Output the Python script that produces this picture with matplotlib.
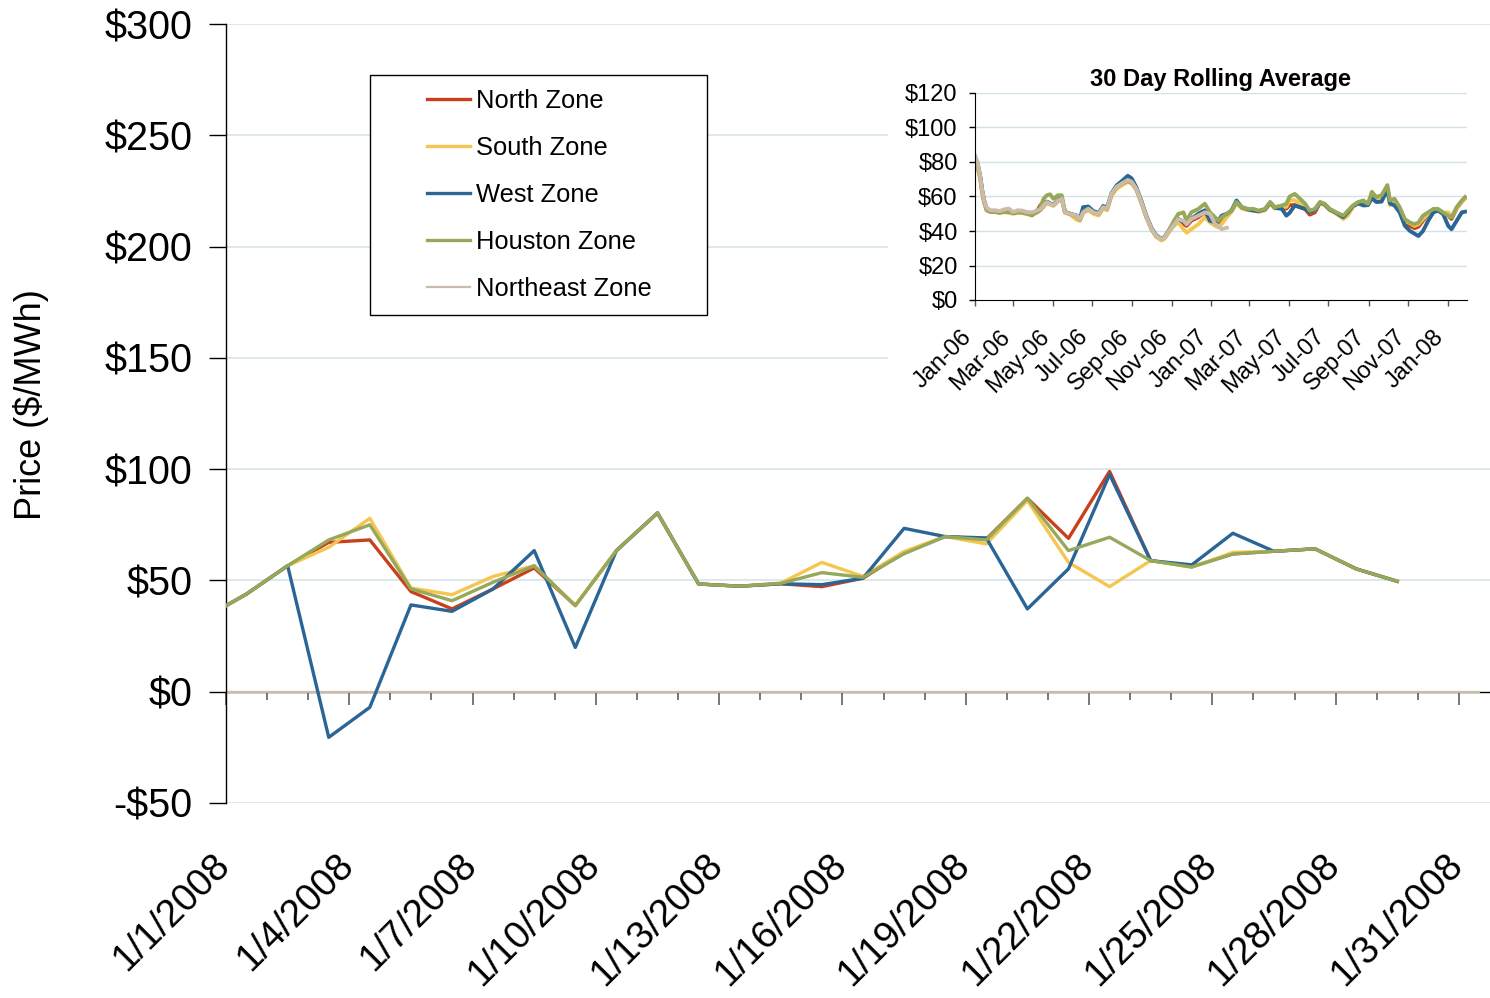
import matplotlib.pyplot as plt
import matplotlib.transforms as mtransforms
from matplotlib.patches import Rectangle
import numpy as np
import pandas as pd

plt.rcParams['font.family'] = ['Liberation Sans', 'DejaVu Sans']

# ---- January 2008 daily prices ($/MWh), points sit between the day ticks
day_pos = np.arange(-0.5, 29, 1.0)
north = [33.4, 43.9, 56.6, 67.1, 68.2, 45, 37.2, 46.2, 55.6, 38.7, 63.4, 80.3, 48.4, 47.4, 48.5,
         47.2, 51, 62.6, 69.7, 68.6, 86.9, 68.9, 99, 58.9, 56.2, 61.9, 63.1, 64.2, 55.2, 49.6]
south = [33.4, 43.9, 56.6, 64.9, 77.9, 46.6, 43.6, 51.8, 56.6, 38.7, 63.4, 80.3, 48.4, 47.4, 48.8,
         58.1, 51.8, 63, 69.7, 66.4, 85.9, 58.1, 47.2, 58.9, 56, 62.6, 63.1, 64.2, 55.2, 49.6]
west = [33.4, 43.9, 56.6, -20.5, -7, 39, 36.1, 46.2, 63.4, 19.9, 63.4, 80.3, 48.4, 47.4, 48.5,
        48.1, 51, 73.4, 69.7, 69.1, 37.2, 55.2, 97.6, 58.9, 57, 71.2, 63.1, 64.2, 55.2, 49.6]
houston = [33.4, 43.9, 56.6, 68.2, 75, 46.2, 40.9, 49.2, 56.6, 38.7, 63.4, 80.3, 48.4, 47.4, 48.7,
           53.5, 51.4, 62, 69.7, 68.2, 86.9, 63.4, 69.4, 58.9, 56, 61.9, 63.1, 64.2, 55.2, 49.6]
ne_pos = np.arange(-0.5, 31, 1.0)
northeast = [0] * 32

x_ticks = np.arange(0, 31, 3)
x_labels = ['1/1/2008', '1/4/2008', '1/7/2008', '1/10/2008', '1/13/2008', '1/16/2008',
            '1/19/2008', '1/22/2008', '1/25/2008', '1/28/2008', '1/31/2008']
y_ticks = [-50, 0, 50, 100, 150, 200, 250, 300]
y_labels = ['-$50', '$0', '$50', '$100', '$150', '$200', '$250', '$300']

# ---- 30 day rolling average, sampled (days since 1 Jan 2006)
roll_days = [0, 4, 8, 11, 14, 18, 24, 31, 38, 45,
             52, 59, 66, 73, 80, 88, 95, 101, 106, 111,
             116, 121, 128, 134, 139, 147, 157, 162, 167, 175,
             183, 191, 198, 204, 211, 219, 227, 236, 242, 249,
             257, 265, 273, 280, 288, 293, 298, 306, 314, 322,
             327, 334, 345, 355, 363, 371, 376, 381, 389, 396,
             404, 412, 422, 430, 438, 448, 456, 463, 474, 481,
             486, 494, 502, 510, 517, 525, 533, 540, 548, 558,
             569, 576, 584, 592, 600, 607, 613, 620, 628, 637,
             641, 648, 656, 664, 672, 679, 685, 692, 700, 708,
             715, 723, 731, 736, 744, 752, 757]
roll_north = [80, 79, 71, 63, 57, 52.5, 51.5, 51.5, 50.8, 51.5,
              51.5, 50.5, 51, 51, 50.5, 50, 51, 55, 55, 57,
              56, 55, 58, 59, 51, 50, 48.5, 46.5, 51, 53,
              50.8, 49.9, 53.8, 52.8, 61.5, 65.5, 67.5, 69.5, 68.5, 64.6,
              56.8, 47.9, 41, 37, 35, 36, 39, 43.5, 47, 44,
              43, 46, 48, 51, 47, 44, 44, 46, 49, 51.5,
              56.5, 53.5, 52.5, 52.5, 51.5, 52.5, 56.5, 53.5, 53.5, 53,
              55, 55, 53.8, 52.8, 49.5, 50.8, 56.5, 55.5, 52.5, 50.5,
              48, 51, 54.5, 56.5, 56.5, 55.5, 61, 58.5, 59.5, 65,
              56.5, 57.5, 52.5, 44, 43, 41.6, 42.5, 46, 50, 52.5,
              52.5, 50.5, 49, 47, 53, 57, 59]
roll_south = [75, 77, 70, 62, 56.5, 52, 51, 51, 50.5, 51,
              50.5, 50, 50.5, 50.5, 50, 49.5, 50.5, 52, 54, 56,
              55.5, 54.5, 57, 58.5, 50.5, 49.5, 46.5, 45.9, 50.5, 52,
              50, 49, 53, 52, 60.5, 64.5, 66.5, 68.5, 67.5, 64,
              56, 47.5, 40.5, 36.5, 34.5, 35.5, 38.5, 42.5, 45, 41,
              39, 41, 43.9, 47.9, 45, 43, 42, 44, 48, 51,
              56, 53, 52, 52, 51, 52, 56, 53, 54, 54,
              58, 57.7, 56, 54.8, 51, 52, 56, 55, 52, 50,
              46.9, 49, 54, 56, 57, 55, 61, 58.5, 59.5, 65,
              55, 57, 52, 46, 44.5, 43, 44, 47, 50, 52.5,
              52.5, 50.5, 50.8, 48, 53, 57, 59]
roll_west = [82, 79, 72, 64, 58, 53, 51.5, 51.5, 51, 51.5,
             51.5, 50.5, 51, 51, 50.5, 50, 51, 52.5, 55, 57,
             56, 55, 58, 59, 51, 50, 49, 47, 53.8, 54.2,
             51.5, 50.5, 54.5, 53.5, 62, 66.5, 69, 72, 70.5, 65.5,
             57.5, 48.5, 41.5, 37.5, 35.5, 36.5, 39.5, 43.5, 47, 45,
             44.9, 47, 50, 52, 45.9, 45, 45.9, 48.9, 50, 51.8,
             57.7, 53.8, 52.5, 51.8, 51.5, 52.5, 56.5, 53.5, 52.8, 48.9,
             50.5, 54.8, 53.8, 52.8, 51, 52, 56.5, 55.5, 52.5, 50.5,
             48, 51, 54.5, 56, 54.8, 55, 59, 56.8, 57, 64,
             56, 54.8, 50.8, 43, 40, 38.4, 37.1, 40, 45.9, 50.8,
             51.8, 49.9, 43, 41, 45.9, 50.8, 51.2]
roll_houston = [78, 78, 71, 63, 57, 52, 51, 51, 50.5, 51,
                51, 50.5, 51, 50.5, 50, 49, 51, 54, 58.7, 60.7,
                61.3, 58.7, 60.7, 60.7, 51, 50, 48.5, 46.5, 51, 53,
                50.8, 49.9, 53.8, 52.8, 61.5, 65.5, 67.5, 69, 68, 64.6,
                56.8, 47.9, 41, 37, 35.5, 36.5, 39.5, 45, 49.9, 50.8,
                45.9, 50.8, 52.8, 55.8, 50.8, 47.9, 45.9, 47.9, 49.9, 51.8,
                56.8, 53.8, 52.8, 52.8, 51.8, 52.8, 56.8, 53.8, 54.8, 55.8,
                60, 61.5, 58.7, 55.8, 51.8, 52.8, 56.8, 55.8, 52.8, 50.8,
                48.9, 51.8, 54.8, 56.8, 57.7, 55.8, 62.7, 59.7, 60.7, 66.6,
                57.7, 58.7, 53.8, 46.9, 44.9, 44, 44.9, 48.9, 50.8, 52.8,
                52.8, 50.8, 48.9, 47.9, 53.8, 57.7, 59.7]
roll_northeast = [84, 80, 71.5, 63.6, 57.7, 53.5, 52, 52, 51.5, 52.5,
                  53, 51, 52, 51.8, 51, 50.8, 51.8, 52.5, 54.8, 56.8,
                  55.8, 54.8, 57.7, 58.7, 50.8, 49.9, 48.9, 46.9, 50.8, 52.8,
                  50.8, 49.9, 53.8, 52.8, 61.7, 65.6, 67.6, 69.6, 68.6, 64.6,
                  56.8, 47.9, 41, 37.1, 35.1, 36.1, 39, 43, 46.9, 45.9,
                  43.9, 46.9, 48.9, 50.8, 49.9, 43.9, 43, 41, 41.9]
inset_tick_labels = ['Jan-06', 'Mar-06', 'May-06', 'Jul-06', 'Sep-06', 'Nov-06', 'Jan-07',
                     'Mar-07', 'May-07', 'Jul-07', 'Sep-07', 'Nov-07', 'Jan-08']
inset_y_ticks = [0, 20, 40, 60, 80, 100, 120]
inset_y_labels = ['$0', '$20', '$40', '$60', '$80', '$100', '$120']

names = ['North Zone', 'South Zone', 'West Zone', 'Houston Zone', 'Northeast Zone']
colors = ['#C8411B', '#F5C64F', '#2A6596', '#96A95A', '#CBBBA8']
grid_col = '#D3E2E7'

W, H = 1490, 998
fig = plt.figure(figsize=(W / 100, H / 100), dpi=100)

# ---------------- main chart
ax = fig.add_axes([226 / W, (H - 803) / H, (1500 - 226) / W, (803 - 24) / H])
ax.set_xlim(0, 31)
ax.set_ylim(-50, 300)
for v in y_ticks:
    if v != 0:
        ax.axhline(v, color=grid_col, lw=1.1, zorder=0)
ax.axhline(0, color='black', lw=1, zorder=1)

lines = []
for vals, c in zip([north, south, west, houston], colors[:4]):
    ln, = ax.plot(day_pos, vals, color=c, lw=2.4, zorder=3)
    lines.append(ln)
ln, = ax.plot(ne_pos, northeast, color=colors[4], lw=1.6, zorder=2)
lines.append(ln)

for s in ['top', 'right', 'bottom']:
    ax.spines[s].set_visible(False)
ax.spines['left'].set_linewidth(1)
ax.set_yticks(y_ticks, y_labels)
ax.tick_params(axis='y', length=12, width=1, pad=12, labelsize=28.5)
ax.set_xticks(x_ticks, x_labels, rotation=45, ha='right', va='top', rotation_mode='anchor')
ax.tick_params(axis='x', length=0, pad=32, labelsize=27.5)
off = mtransforms.ScaledTranslation(-10.2 / 72, 0, fig.dpi_scale_trans)
for lab in ax.get_xticklabels():
    lab.set_transform(lab.get_transform() + off)

# day ticks on the zero line
sec = ax.secondary_xaxis(50 / 350)
sec.spines['bottom'].set_visible(False)
sec.set_xticks(x_ticks)
sec.set_xticks(np.arange(0, 32), minor=True)
sec.tick_params(which='both', direction='out', labelbottom=False, color='#555555', width=1.1)
sec.tick_params(which='major', length=9)
sec.tick_params(which='minor', length=5.8)

fig.text(31 / W, 1 - 405 / H, 'Price ($/MWh)', rotation=90, fontsize=26,
         ha='center', va='center')

# legend box
fig.add_artist(Rectangle((370 / W, 1 - 315 / H), 337 / W, 240 / H, transform=fig.transFigure,
                         facecolor='white', edgecolor='black', lw=1, zorder=3))
fig.legend(lines, names, loc='upper left', bbox_to_anchor=(427 / W, 1 - 89 / H),
           bbox_transform=fig.transFigure, frameon=False, borderpad=0, borderaxespad=0,
           fontsize=18.4, handlelength=1.68, handletextpad=0.23, labelspacing=0.9)

# ---------------- inset: rolling average
fig.add_artist(Rectangle((888 / W, 1 - 405 / H), (W - 888) / W, (405 - 52) / H,
                         transform=fig.transFigure, facecolor='white', edgecolor='none', zorder=1))
ax2 = fig.add_axes([975 / W, (H - 300) / H, (1467 - 975) / W, (300 - 93) / H], zorder=2)
start = pd.Timestamp('2006-01-01')
roll_dates = start + pd.to_timedelta(roll_days, unit='D')
for vals, c in zip([roll_north, roll_south, roll_west, roll_houston, roll_northeast], colors):
    ax2.plot(roll_dates[:len(vals)], vals, color=c, lw=2.8, solid_joinstyle='round')
ax2.set_xlim(start, pd.Timestamp('2008-01-31'))
ax2.set_ylim(0, 120)
for v in inset_y_ticks[1:]:
    ax2.axhline(v, color=grid_col, lw=1, zorder=0)
for s in ['top', 'right']:
    ax2.spines[s].set_visible(False)
ax2.set_yticks(inset_y_ticks, inset_y_labels)
ax2.tick_params(axis='y', length=4.5, width=1, pad=8, labelsize=17)
tick_dates = pd.date_range('2006-01-01', '2008-01-01', freq='2MS')
ax2.set_xticks(tick_dates, inset_tick_labels, rotation=45, ha='right', va='top',
               rotation_mode='anchor')
ax2.tick_params(axis='x', length=4.5, width=1, color='#555555', pad=14, labelsize=17)
off2 = mtransforms.ScaledTranslation(-10.5 / 72, 0, fig.dpi_scale_trans)
for lab in ax2.get_xticklabels():
    lab.set_transform(lab.get_transform() + off2)
ax2.set_title('30 Day Rolling Average', fontsize=17, fontweight='bold', pad=5)

fig.savefig('out.png', dpi=100)
